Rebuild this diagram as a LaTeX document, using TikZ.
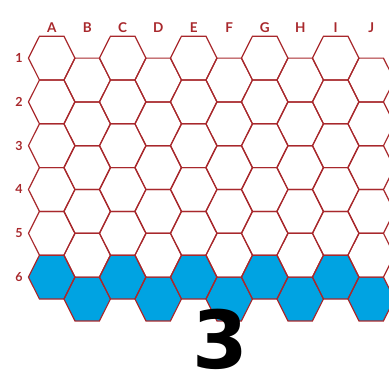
\documentclass[tikz,border=0pt]{standalone}
\usepackage{fontspec}
\setmainfont{Lato}
\newfontfamily\bigfont{DejaVu Sans}
\definecolor{hexred}{RGB}{168,40,44}
\definecolor{hexblue}{RGB}{0,163,226}
\begin{document}
\begin{tikzpicture}[x=1pt,y=-1pt,
  hexline/.style={draw=hexred,line width=1.2pt,line join=miter},
  collabel/.style={text=hexred,font=\bfseries\fontsize{13.5}{13.5}\selectfont,anchor=base,inner sep=0pt},
  rowlabel/.style={text=hexred,font=\bfseries\fontsize{12.5}{12.5}\selectfont,anchor=base,inner sep=0pt},
  bignum/.style={text=black,font=\bigfont\bfseries\fontsize{80}{80}\selectfont,anchor=base,inner sep=0pt}]
\useasboundingbox (0,0) rectangle (389,372);
\begin{scope}
\clip (0,0) rectangle (389,372);
\foreach \c in {0,...,9}{
  \foreach \r in {0,...,5}{
    \pgfmathsetmacro\cx{51.7+35.5*\c}
    \pgfmathsetmacro\cy{58.1+43.8*\r+21.9*mod(\c,2)}
    \ifnum\r=5 \def\fc{hexblue}\else\def\fc{white}\fi
    \fill[\fc] ({\cx-23.25},\cy) -- ({\cx-12.25},{\cy-21.9}) -- ({\cx+12.25},{\cy-21.9}) -- ({\cx+23.25},\cy) -- ({\cx+12.25},{\cy+21.9}) -- ({\cx-12.25},{\cy+21.9}) -- cycle;
  }
}
\foreach \c in {0,...,9}{
  \foreach \r in {0,...,5}{
    \pgfmathsetmacro\cx{51.7+35.5*\c}
    \pgfmathsetmacro\cy{58.1+43.8*\r+21.9*mod(\c,2)}
    \draw[hexline] ({\cx-23.25},\cy) -- ({\cx-12.25},{\cy-21.9}) -- ({\cx+12.25},{\cy-21.9}) -- ({\cx+23.25},\cy) -- ({\cx+12.25},{\cy+21.9}) -- ({\cx-12.25},{\cy+21.9}) -- cycle;
  }
}
\end{scope}
\foreach \l [count=\i from 0] in {A,B,C,D,E,F,G,H,I,J}{
  \node[collabel] (col\l) at ({51.7+35.5*\i},32.3) {\l};
}
\foreach \n in {1,...,6}{
  \node[rowlabel] (row\n) at (19,{58.1+43.8*(\n-1)+4.4}) {\n};
}
\node[bignum] (num) at (220.7,368) {3};
\end{tikzpicture}
\end{document}
